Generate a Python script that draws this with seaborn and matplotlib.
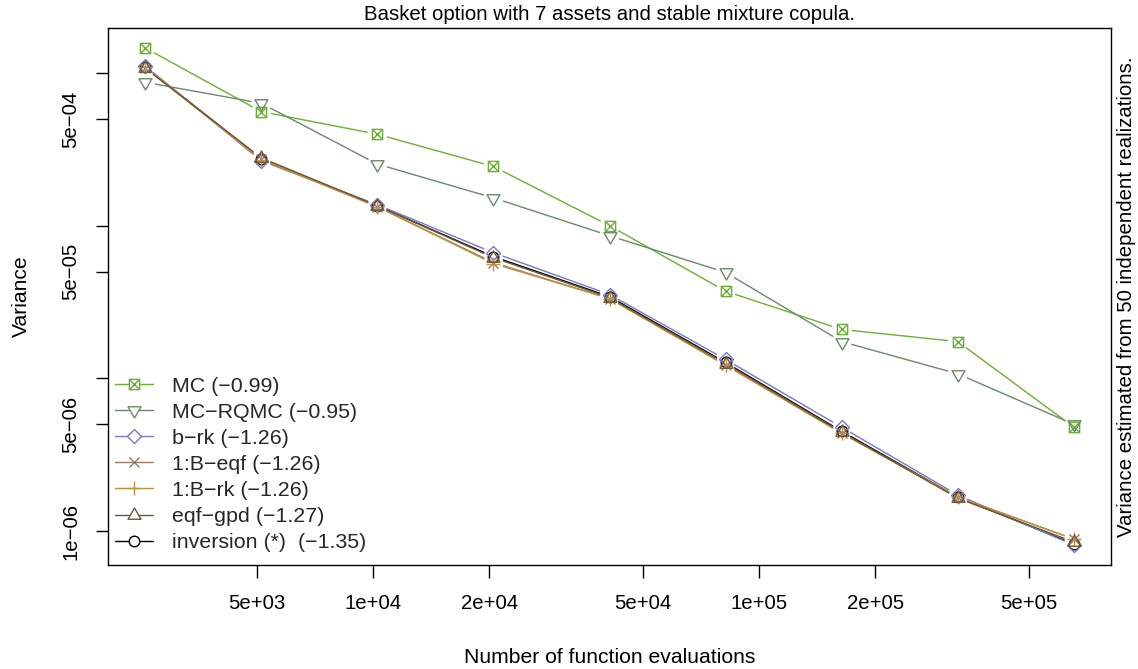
import numpy as np
import matplotlib
matplotlib.use("Agg")
import matplotlib.pyplot as plt
from matplotlib.path import Path
from matplotlib.lines import Line2D
from matplotlib.ticker import NullLocator
import seaborn as sns

# number of function evaluations (doubling)
n_evals = [2560, 5120, 10240, 20480, 40960, 81920, 163840, 327680, 655360]

# variance estimates
var_mc = [1.46e-3, 5.58e-4, 3.97e-4, 2.44e-4, 1.00e-4, 3.72e-5, 2.09e-5, 1.74e-5, 4.78e-6]
var_mc_rqmc = [8.69e-4, 6.33e-4, 2.53e-4, 1.52e-4, 8.59e-5, 4.94e-5, 1.74e-5, 1.07e-5, 5.0e-6]
var_b_rk = [1.110e-3, 2.657e-4, 1.371e-4, 6.65e-5, 3.54e-5, 1.33e-5, 4.78e-6, 1.72e-6, 8.09e-7]
var_1b_eqf = [1.077e-3, 2.739e-4, 1.330e-4, 5.73e-5, 3.33e-5, 1.22e-5, 4.37e-6, 1.67e-6, 8.85e-7]
var_1b_rk = [1.094e-3, 2.70e-4, 1.330e-4, 5.64e-5, 3.33e-5, 1.22e-5, 4.37e-6, 1.67e-6, 8.85e-7]
var_eqf_gpd = [1.077e-3, 2.78e-4, 1.350e-4, 6.17e-5, 3.38e-5, 1.25e-5, 4.44e-6, 1.64e-6, 8.47e-7]
var_inversion = [1.094e-3, 2.739e-4, 1.350e-4, 6.27e-5, 3.43e-5, 1.27e-5, 4.50e-6, 1.67e-6, 8.22e-7]

labels = ["MC (\u22120.99)", "MC\u2212RQMC (\u22120.95)", "b\u2212rk (\u22121.26)",
          "1:B\u2212eqf (\u22121.26)", "1:B\u2212rk (\u22121.26)", "eqf\u2212gpd (\u22121.27)",
          "inversion (*)  (\u22121.35)"]
colors = ["#6bb130", "#698b69", "#7777cc", "#9c7a6a", "#c0903a", "#6e5a32", "#000000"]

x_ticks = [5e3, 1e4, 2e4, 5e4, 1e5, 2e5, 5e5]
x_ticklabels = ["5e+03", "1e+04", "2e+04", "5e+04", "1e+05", "2e+05", "5e+05"]
y_ticks = [1e-3, 5e-4, 1e-4, 5e-5, 1e-5, 5e-6, 1e-6]
y_ticklabels = ["", "5e\u221204", "", "5e\u221205", "", "5e\u221206", "1e\u221206"]

# R-like markers
M, L, C = Path.MOVETO, Path.LINETO, Path.CLOSEPOLY
box_x = Path([(-1, -1), (1, -1), (1, 1), (-1, 1), (-1, -1), (-1, -1), (1, 1), (-1, 1), (1, -1)],
             [M, L, L, L, C, M, L, M, L])
tri_down = Path([(0, -1), (0.866, 0.5), (-0.866, 0.5), (0, -1)], [M, L, L, C])
tri_up = Path([(0, 1), (0.866, -0.5), (-0.866, -0.5), (0, 1)], [M, L, L, C])
markers = [box_x, tri_down, "D", "x", "+", tri_up, "o"]
msizes = [7.4, 10.8, 7.2, 7.6, 10.6, 10.8, 7.6]
fillable = [True, True, True, False, False, True, True]

series = [var_mc, var_mc_rqmc, var_b_rk, var_1b_eqf, var_1b_rk, var_eqf_gpd, var_inversion]
draw_order = [6, 0, 1, 2, 3, 4, 5]

sns.set_theme(style="ticks")
plt.rcParams['font.family'] = ['Liberation Sans', 'DejaVu Sans']
fs = 14.7

fig = plt.figure(figsize=(11.38, 6.69), dpi=100)
ax = fig.add_axes([0.0949, 0.1555, 0.8814, 0.8027])
ax.set_xscale('log')
ax.set_yscale('log')

for k in draw_order:
    vals, col, mk, ms = series[k], colors[k], markers[k], msizes[k]
    sns.lineplot(x=n_evals, y=vals, ax=ax, color=col, marker=mk, markersize=ms,
                 markerfacecolor='none', markeredgecolor=col, markeredgewidth=1.0,
                 linestyle='', legend=False)
    # type="b" style: segments stop short of the points
    for i in range(len(n_evals) - 1):
        ax.annotate('', xy=(n_evals[i + 1], vals[i + 1]), xytext=(n_evals[i], vals[i]),
                    arrowprops=dict(arrowstyle='-', color=col, lw=1.0,
                                    shrinkA=7.5, shrinkB=7.5))

# R-style 4% padding on log axes
allv = np.concatenate([np.asarray(s) for s in series])
ylo, yhi = np.log10(allv.min()), np.log10(allv.max())
xlo, xhi = np.log10(min(n_evals)), np.log10(max(n_evals))
ax.set_ylim(10 ** (ylo - 0.04 * (yhi - ylo)), 10 ** (yhi + 0.04 * (yhi - ylo)))
ax.set_xlim(10 ** (xlo - 0.04 * (xhi - xlo)), 10 ** (xhi + 0.04 * (xhi - xlo)))

ax.set_xticks(x_ticks)
ax.set_xticklabels(x_ticklabels)
ax.set_yticks(y_ticks)
ax.set_yticklabels(y_ticklabels)
ax.xaxis.set_minor_locator(NullLocator())
ax.yaxis.set_minor_locator(NullLocator())
ax.tick_params(direction='out', length=9, width=1.0, color='black', labelsize=fs, labelcolor='black')
ax.tick_params(axis='x', pad=12)
ax.tick_params(axis='y', pad=11, labelrotation=90)
for lbl in ax.get_yticklabels():
    lbl.set_va('center')

for sp in ax.spines.values():
    sp.set_color('black')
    sp.set_linewidth(1.0)

ax.set_xlabel("Number of function evaluations", fontsize=15.2, labelpad=25, color='black')
ax.set_ylabel("Variance", fontsize=15.2, labelpad=22, color='black')
ax.set_title("Basket option with 7 assets and stable mixture copula.", fontsize=fs, pad=6, color='black')
fig.text(1127 / 1138, 0.557, "Variance estimated from 50 independent realizations.",
         rotation=90, ha='center', va='center', fontsize=fs, color='black')

handles = [Line2D([], [], color=c, lw=1.0, marker=m, markersize=s,
                  markerfacecolor='white' if f else 'none', markeredgecolor=c, markeredgewidth=1.0)
           for c, m, s, f in zip(colors, markers, msizes, fillable)]
ax.legend(handles, labels, loc='lower left', bbox_to_anchor=(0.007, 0.024), frameon=False,
          borderaxespad=0, borderpad=0, handlelength=1.78, handletextpad=0.88,
          labelspacing=0.33, fontsize=15.4, numpoints=1)

plt.savefig('out.png', dpi=100)
